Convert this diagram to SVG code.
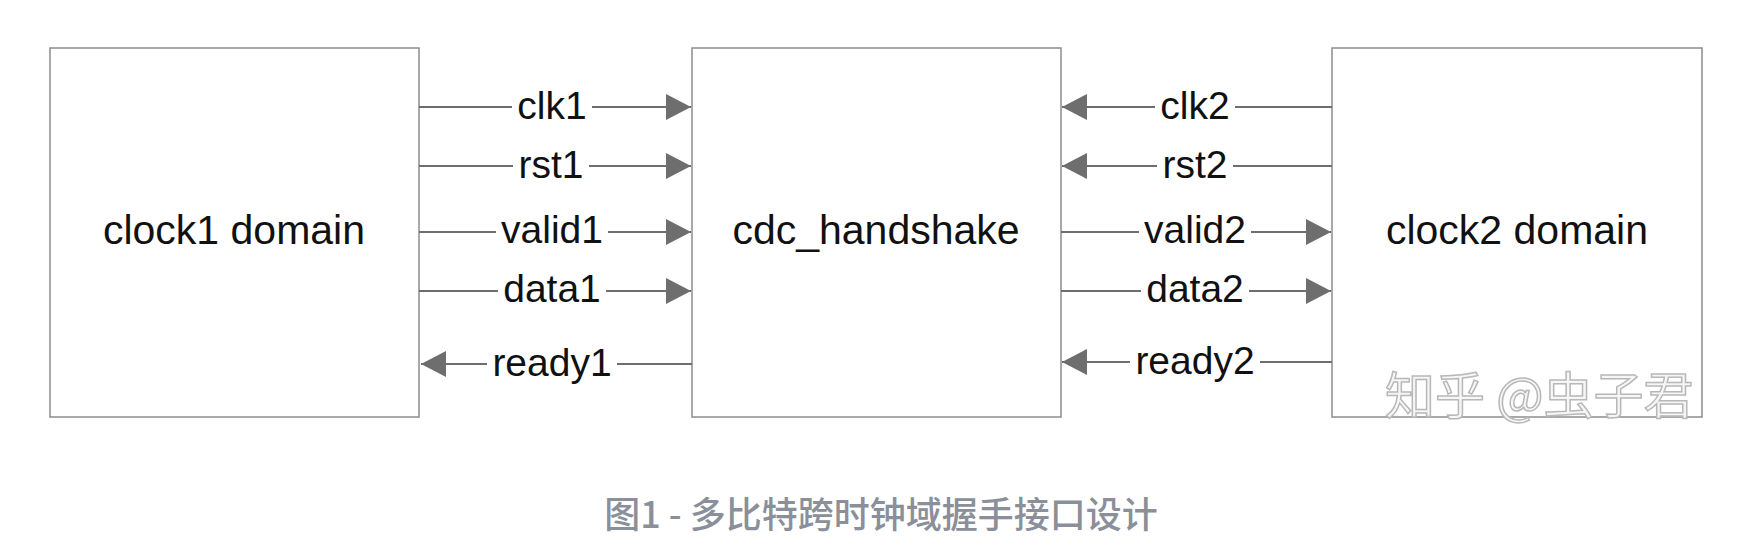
<svg xmlns="http://www.w3.org/2000/svg" width="1744" height="556" viewBox="0 0 1744 556">
<style>
.box{fill:#fff;stroke:#8c8c8c;stroke-width:1.5}
.btxt{font-family:"Liberation Sans",Arial,sans-serif;font-size:41px;fill:#111;text-anchor:middle}
.wire{stroke:#6e6e6e;stroke-width:2.2;fill:none}
.bg{fill:#fff;stroke:none}
.lbl{font-family:"Liberation Sans",Arial,sans-serif;font-size:39px;fill:#111;text-anchor:middle}
.cap{font-family:"Noto Sans CJK SC","Noto Sans",sans-serif;font-size:36px;font-weight:500;fill:#8a8f99;text-anchor:middle}
.wm{font-family:"Noto Sans CJK SC",sans-serif;font-size:50px;fill:#f6f6f6;stroke:#b8b8b8;stroke-width:1.5}
</style>
<defs>
<marker id="ah" markerUnits="userSpaceOnUse" markerWidth="26" markerHeight="28" refX="25" refY="13" orient="auto">
<path d="M0,0 L25,13 L0,26 z" fill="#6e6e6e"/>
</marker>
</defs>
<g id="clock1">
<rect class="box" x="50" y="48" width="369" height="369"/>
<text class="btxt" x="234" y="244">clock1 domain</text>
</g>
<g id="cdc">
<rect class="box" x="692" y="48" width="369" height="369"/>
<text class="btxt" x="876" y="244">cdc_handshake</text>
</g>
<g id="clock2">
<rect class="box" x="1332" y="48" width="370" height="369"/>
<text class="btxt" x="1517" y="244">clock2 domain</text>
</g>
<g id="connectors">
<line class="wire" x1="419" y1="107" x2="691" y2="107" marker-end="url(#ah)"/>
<line class="wire" x1="419" y1="166" x2="691" y2="166" marker-end="url(#ah)"/>
<line class="wire" x1="419" y1="232" x2="691" y2="232" marker-end="url(#ah)"/>
<line class="wire" x1="419" y1="291" x2="691" y2="291" marker-end="url(#ah)"/>
<line class="wire" x1="692" y1="364" x2="421" y2="364" marker-end="url(#ah)"/>
<line class="wire" x1="1332" y1="107" x2="1062" y2="107" marker-end="url(#ah)"/>
<line class="wire" x1="1332" y1="166" x2="1062" y2="166" marker-end="url(#ah)"/>
<line class="wire" x1="1061" y1="232" x2="1331" y2="232" marker-end="url(#ah)"/>
<line class="wire" x1="1061" y1="291" x2="1331" y2="291" marker-end="url(#ah)"/>
<line class="wire" x1="1332" y1="362" x2="1062" y2="362" marker-end="url(#ah)"/>
<rect class="bg" x="512" y="93" width="80" height="28"/>
<rect class="bg" x="513" y="152" width="76" height="28"/>
<rect class="bg" x="496" y="218" width="112" height="28"/>
<rect class="bg" x="498" y="277" width="108" height="28"/>
<rect class="bg" x="487" y="350" width="130" height="28"/>
<rect class="bg" x="1155" y="93" width="80" height="28"/>
<rect class="bg" x="1157" y="152" width="76" height="28"/>
<rect class="bg" x="1139" y="218" width="112" height="28"/>
<rect class="bg" x="1141" y="277" width="108" height="28"/>
<rect class="bg" x="1130" y="348" width="130" height="28"/>
<text class="lbl" x="552" y="119">clk1</text>
<text class="lbl" x="551" y="178">rst1</text>
<text class="lbl" x="552" y="243">valid1</text>
<text class="lbl" x="552" y="302">data1</text>
<text class="lbl" x="552" y="376">ready1</text>
<text class="lbl" x="1195" y="119">clk2</text>
<text class="lbl" x="1195" y="178">rst2</text>
<text class="lbl" x="1195" y="243">valid2</text>
<text class="lbl" x="1195" y="302">data2</text>
<text class="lbl" x="1195" y="374">ready2</text>
</g>
<text class="wm" x="1385" y="414">知乎 @虫子君</text>
<text class="cap" x="881" y="528">图1 - 多比特跨时钟域握手接口设计</text>
</svg>
